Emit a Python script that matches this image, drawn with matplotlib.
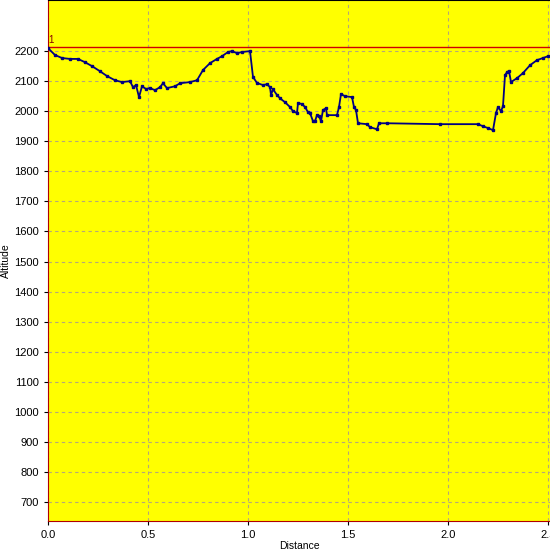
import matplotlib
matplotlib.use('Agg')
import matplotlib.pyplot as plt

plt.rcParams['font.family'] = ['Liberation Sans', 'DejaVu Sans']

# elevation profile
distance = [0.0, 0.035, 0.07, 0.11, 0.15, 0.185, 0.22, 0.26, 0.295, 0.335,
            0.37, 0.41, 0.425, 0.44, 0.455, 0.47, 0.49, 0.51, 0.535, 0.56,
            0.575, 0.595, 0.635, 0.66, 0.71, 0.745, 0.775, 0.81, 0.845, 0.87,
            0.9, 0.92, 0.945, 0.97, 1.01, 1.025, 1.045, 1.075, 1.095, 1.11,
            1.115, 1.125, 1.145, 1.16, 1.185, 1.21, 1.225, 1.245, 1.25, 1.27,
            1.285, 1.30, 1.31, 1.325, 1.335, 1.345, 1.355, 1.365, 1.375, 1.39,
            1.395, 1.445, 1.455, 1.465, 1.485, 1.52, 1.53, 1.54, 1.55, 1.595,
            1.61, 1.645, 1.655, 1.695, 1.96, 2.15, 2.175, 2.2, 2.225, 2.24,
            2.25, 2.265, 2.275, 2.285, 2.295, 2.305, 2.315, 2.345, 2.375, 2.41,
            2.445, 2.475, 2.5]
altitude = [2210, 2187, 2177, 2174, 2174, 2163, 2150, 2133, 2117, 2103,
            2097, 2100, 2080, 2087, 2047, 2083, 2074, 2077, 2070, 2080,
            2093, 2077, 2083, 2093, 2097, 2103, 2137, 2160, 2174, 2183,
            2197, 2200, 2193, 2197, 2200, 2114, 2094, 2087, 2090, 2080,
            2054, 2073, 2054, 2043, 2030, 2014, 2000, 1994, 2027, 2024,
            2014, 1997, 1994, 1967, 1967, 1987, 1984, 1967, 2004, 2010,
            1987, 1987, 2014, 2057, 2050, 2047, 2014, 2004, 1960, 1957,
            1947, 1940, 1960, 1960, 1957, 1957, 1950, 1944, 1937, 1994,
            2014, 2000, 2017, 2120, 2130, 2134, 2097, 2110, 2127, 2153,
            2170, 2177, 2183]

ref_level = 2213
y_ticks = list(range(700, 2201, 100))
x_ticks = [0.0, 0.5, 1.0, 1.5, 2.0, 2.5]

fig = plt.figure(figsize=(5.5, 5.5), dpi=100)
ax = fig.add_axes([48 / 550, 29 / 550, 502 / 550, 521 / 550])
ax.set_facecolor('#FFFF00')

ax.plot(distance, altitude, color='#000080', linewidth=1.3,
        marker='s', markersize=2, zorder=3)
ax.axhline(ref_level, color='#D00000', linewidth=1.0, zorder=2)
ax.text(0.003, ref_level + 8, '1', color='#880000', fontsize=7, va='bottom', ha='left')

ax.set_xlim(0, 2.51)
ax.set_ylim(637, 2370)
ax.set_xticks(x_ticks)
ax.set_xticklabels([f'{v:.1f}' for v in x_ticks])
ax.set_yticks(y_ticks)
ax.grid(True, linestyle=(0, (3, 3)), color='#B4A878', linewidth=0.8)
ax.tick_params(labelsize=8, length=3, width=0.8, color='black')

ax.spines['left'].set_color('#B00000')
ax.spines['bottom'].set_color('#B00000')
ax.spines['right'].set_visible(False)
ax.spines['top'].set_color('black')

ax.set_xlabel('Distance', fontsize=7.5, labelpad=1)
ax.set_ylabel('Altitude', fontsize=7.5, labelpad=2)

fig.savefig('out.png', dpi=100)
